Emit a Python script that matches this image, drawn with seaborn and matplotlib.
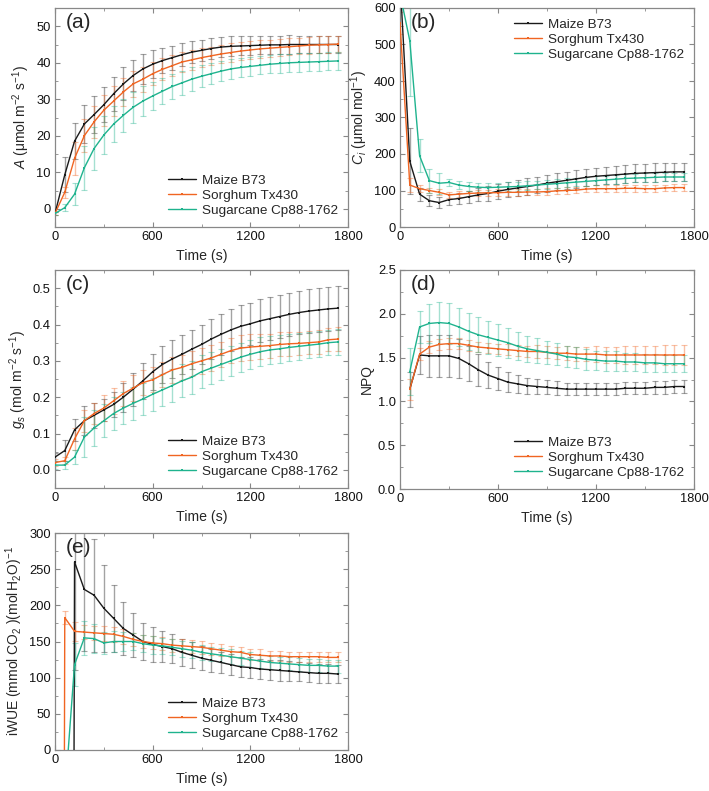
import numpy as np
import pandas as pd
import seaborn as sns
from matplotlib import pyplot as plt
from matplotlib.ticker import MultipleLocator, FormatStrFormatter

sns.set_theme(style="ticks")
plt.rcParams['font.family'] = ['Liberation Sans', 'DejaVu Sans']
plt.rcParams['mathtext.fontset'] = 'custom'
plt.rcParams['mathtext.rm'] = 'Liberation Sans'
plt.rcParams['mathtext.it'] = 'Liberation Sans:italic'

nan = np.nan
time_s = list(range(0, 1800, 60))  # 0 .. 1740
species = ["Maize B73", "Sorghum Tx430", "Sugarcane Cp88-1762"]
colors = ["#1a1a1a", "#f06522", "#1fb38e"]

# (a) A
A_maize = [-1.3, 9.3, 18.5, 23.2, 25.8, 28.5, 31.5, 34.2, 36.5, 38.3, 39.6, 40.6, 41.4, 42.2, 42.9,
           43.4, 43.9, 44.3, 44.5, 44.6, 44.7, 44.8, 44.9, 44.9, 45.0, 45.0, 45.0, 45.0, 45.0, 45.0]
A_sorg = [-1.3, 4.5, 13.8, 20.0, 23.8, 27.0, 29.5, 32.0, 34.2, 35.5, 37.0, 38.2, 39.2, 40.2, 40.8,
          41.4, 41.9, 42.4, 42.8, 43.2, 43.5, 43.8, 44.0, 44.2, 44.4, 44.6, 44.8, 44.9, 45.0, 45.1]
A_sugar = [-1.3, 0.3, 4.0, 11.2, 16.5, 20.2, 23.2, 25.6, 27.8, 29.5, 30.9, 32.2, 33.5, 34.5, 35.5,
           36.3, 37.0, 37.7, 38.3, 38.7, 39.0, 39.3, 39.6, 39.8, 40.0, 40.1, 40.2, 40.3, 40.4, 40.5]
A_maize_err = [0.5, 4.8, 5.0, 5.2, 5.0, 4.8, 4.7, 4.5, 4.2, 4.0, 3.8, 3.5, 3.3, 3.1, 3.0,
               2.9, 2.8, 2.7, 2.7, 2.6, 2.6, 2.5, 2.5, 2.5, 2.5, 2.4, 2.4, 2.4, 2.4, 2.4]
A_sorg_err = [0.5, 1.5, 4.5, 4.5, 4.3, 4.2, 4.0, 3.8, 3.6, 3.4, 3.2, 3.0, 2.9, 2.8, 2.7,
              2.6, 2.5, 2.5, 2.5, 2.4, 2.4, 2.4, 2.3, 2.3, 2.3, 2.3, 2.3, 2.3, 2.2, 2.2]
A_sugar_err = [0.5, 1.0, 3.0, 6.0, 6.0, 5.2, 5.0, 4.5, 4.2, 4.0, 3.8, 3.6, 3.5, 3.3, 3.2,
               3.0, 2.9, 2.8, 2.7, 2.6, 2.6, 2.5, 2.5, 2.5, 2.5, 2.5, 2.5, 2.5, 2.5, 2.5]

# (b) Ci
Ci_maize = [680, 180, 90, 72, 67, 75, 78, 83, 88, 92, 98, 103, 107, 111, 115,
            120, 124, 128, 132, 136, 139, 141, 143, 145, 147, 148, 149, 150, 151, 151]
Ci_sorg = [560, 115, 105, 100, 95, 88, 90, 92, 93, 94, 94, 95, 95, 96, 96,
           97, 99, 100, 101, 104, 105, 105, 105, 106, 106, 105, 105, 107, 108, 108]
Ci_sugar = [640, 510, 195, 127, 120, 122, 115, 111, 109, 108, 109, 110, 111, 113, 115,
            117, 119, 121, 123, 125, 127, 129, 131, 133, 134, 135, 136, 137, 137, 137]
Ci_maize_err = [30, 90, 18, 15, 15, 15, 16, 17, 18, 20, 20, 21, 22, 22, 23,
                23, 23, 24, 24, 24, 24, 24, 24, 25, 25, 25, 25, 25, 25, 25]
Ci_sorg_err = [30, 20, 10, 8, 8, 8, 8, 8, 8, 8, 9, 9, 9, 9, 9,
               9, 9, 9, 9, 9, 9, 9, 9, 9, 9, 9, 9, 9, 9, 9]
Ci_sugar_err = [30, 150, 45, 33, 29, 10, 12, 12, 12, 12, 12, 12, 12, 12, 12,
                12, 12, 12, 12, 12, 12, 12, 12, 12, 12, 12, 12, 12, 12, 12]

# (c) gs
gs_maize = [0.035, 0.053, 0.11, 0.135, 0.15, 0.165, 0.18, 0.2, 0.222, 0.245, 0.27, 0.29, 0.305, 0.318, 0.332,
            0.345, 0.36, 0.373, 0.385, 0.395, 0.402, 0.41, 0.416, 0.422, 0.428, 0.433, 0.437, 0.44, 0.443, 0.445]
gs_sorg = [0.02, 0.025, 0.085, 0.135, 0.155, 0.17, 0.19, 0.21, 0.225, 0.24, 0.248, 0.262, 0.275, 0.282, 0.292,
           0.3, 0.308, 0.318, 0.328, 0.335, 0.338, 0.34, 0.342, 0.345, 0.347, 0.348, 0.35, 0.352, 0.358, 0.36]
gs_sugar = [0.013, 0.013, 0.035, 0.09, 0.115, 0.135, 0.155, 0.17, 0.183, 0.195, 0.208, 0.22, 0.232, 0.245, 0.255,
            0.27, 0.28, 0.29, 0.3, 0.31, 0.318, 0.325, 0.33, 0.333, 0.337, 0.34, 0.343, 0.346, 0.35, 0.352]
gs_maize_err = [0.01, 0.03, 0.03, 0.04, 0.035, 0.03, 0.035, 0.04, 0.045, 0.05, 0.05, 0.05, 0.052, 0.053, 0.054,
                0.055, 0.055, 0.056, 0.057, 0.058, 0.058, 0.059, 0.06, 0.06, 0.06, 0.06, 0.06, 0.06, 0.06, 0.06]
gs_sorg_err = [0.01, 0.01, 0.03, 0.03, 0.03, 0.035, 0.035, 0.035, 0.035, 0.035, 0.035, 0.035, 0.035, 0.035, 0.035,
               0.035, 0.035, 0.035, 0.035, 0.035, 0.035, 0.035, 0.033, 0.033, 0.033, 0.032, 0.032, 0.032, 0.032, 0.032]
gs_sugar_err = [0.01, 0.01, 0.02, 0.055, 0.05, 0.045, 0.045, 0.045, 0.045, 0.045, 0.045, 0.045, 0.045, 0.045, 0.045,
                0.045, 0.045, 0.043, 0.042, 0.04, 0.04, 0.04, 0.038, 0.038, 0.037, 0.037, 0.036, 0.036, 0.035, 0.035]

# (d) NPQ
npq_maize = [nan, 1.14, 1.53, 1.52, 1.52, 1.52, 1.49, 1.43, 1.36, 1.30, 1.26, 1.22, 1.20, 1.18, 1.17,
             1.16, 1.15, 1.14, 1.14, 1.14, 1.14, 1.14, 1.14, 1.15, 1.15, 1.15, 1.16, 1.16, 1.17, 1.17]
npq_sorg = [nan, 1.14, 1.54, 1.62, 1.65, 1.66, 1.66, 1.64, 1.62, 1.61, 1.60, 1.59, 1.58, 1.57, 1.57,
            1.56, 1.55, 1.55, 1.54, 1.54, 1.54, 1.53, 1.53, 1.53, 1.53, 1.53, 1.53, 1.53, 1.53, 1.53]
npq_sugar = [nan, 1.34, 1.85, 1.89, 1.90, 1.89, 1.85, 1.80, 1.76, 1.73, 1.70, 1.67, 1.63, 1.60, 1.58,
             1.56, 1.54, 1.51, 1.50, 1.48, 1.47, 1.46, 1.46, 1.45, 1.45, 1.44, 1.44, 1.43, 1.43, 1.43]
npq_maize_err = [nan, 0.2, 0.22, 0.24, 0.24, 0.24, 0.22, 0.2, 0.18, 0.15, 0.13, 0.11, 0.1, 0.09, 0.09,
                 0.08, 0.08, 0.07, 0.07, 0.07, 0.07, 0.07, 0.07, 0.07, 0.07, 0.07, 0.07, 0.07, 0.07, 0.07]
npq_sorg_err = [nan, 0.12, 0.07, 0.07, 0.06, 0.06, 0.06, 0.06, 0.06, 0.06, 0.06, 0.06, 0.06, 0.06, 0.07,
                0.07, 0.07, 0.08, 0.08, 0.08, 0.09, 0.09, 0.09, 0.1, 0.1, 0.1, 0.1, 0.11, 0.11, 0.11]
npq_sugar_err = [nan, 0.27, 0.18, 0.22, 0.24, 0.23, 0.22, 0.21, 0.2, 0.19, 0.18, 0.17, 0.16, 0.15, 0.14,
                 0.13, 0.13, 0.12, 0.12, 0.12, 0.11, 0.11, 0.11, 0.1, 0.1, 0.1, 0.1, 0.1, 0.1, 0.1]

# (e) iWUE
wue_maize = [-5000, -5000, 260, 222, 214, 196, 182, 168, 159, 150, 146, 143, 140, 135, 131,
             127, 124, 121, 118, 115, 114, 112, 111, 110, 109, 108, 107, 106, 106, 105]
wue_sorg = [-5000, 183, 164, 163, 162, 161, 160, 157, 153, 150, 148, 147, 145, 144, 143,
            142, 140, 138, 136, 135, 132, 131, 130, 130, 129, 129, 129, 129, 128, 128]
wue_sugar = [-5000, -65, 118, 155, 154, 148, 150, 150, 150, 147, 145, 144, 142, 140, 138,
             135, 133, 131, 129, 127, 125, 123, 121, 120, 119, 118, 117, 117, 116, 116]
wue_maize_err = [nan, nan, 150, 85, 78, 60, 46, 36, 30, 26, 24, 22, 20, 19, 18,
                 17, 16, 15, 15, 14, 14, 14, 14, 14, 14, 13, 13, 13, 13, 13]
wue_sorg_err = [nan, 9, 13, 10, 10, 10, 10, 10, 9, 9, 9, 9, 9, 9, 9,
                9, 8, 8, 8, 8, 8, 8, 7, 7, 7, 7, 7, 7, 7, 7]
wue_sugar_err = [nan, nan, 30, 24, 20, 15, 14, 13, 12, 12, 12, 11, 11, 11, 11,
                 10, 10, 10, 10, 10, 10, 9, 9, 9, 9, 9, 9, 9, 9, 9]

W, H = 709, 791
fig = plt.figure(figsize=(W / 100, H / 100), dpi=100)


def make_ax(left, top, right, bottom):
    return fig.add_axes([left / W, 1 - bottom / H, (right - left) / W, (bottom - top) / H])


def panel(ax, series, errs, letter, ylabel, ylim, ystep, yfmt, legend_loc, ylab_size=10):
    handles = []
    for name, col, vals, err in zip(species, colors, series, errs):
        ax.errorbar(time_s, vals, yerr=err, fmt='none', ecolor=col, alpha=0.4,
                    elinewidth=1.0, capsize=2, capthick=0.8, zorder=1)
        df = pd.DataFrame({"t": time_s, "v": vals}).dropna()
        sns.lineplot(data=df, x="t", y="v", ax=ax, color=col, lw=1.0, marker='s',
                     markersize=1.8, markeredgewidth=0, legend=False, zorder=3)
        line = ax.lines[-1]
        line.set_label(name)
        handles.append(line)
    ax.set_xlim(0, 1800)
    ax.set_ylim(*ylim)
    ax.xaxis.set_major_locator(MultipleLocator(600))
    ax.xaxis.set_minor_locator(MultipleLocator(300))
    ax.yaxis.set_major_locator(MultipleLocator(ystep))
    ax.yaxis.set_minor_locator(MultipleLocator(ystep / 2))
    ax.yaxis.set_major_formatter(FormatStrFormatter(yfmt))
    ax.tick_params(which='both', direction='in', top=True, right=True, labelsize=9.3,
                   colors='#888888', labelcolor='#111111', pad=3)
    ax.tick_params(which='major', length=3.5, width=0.8)
    ax.tick_params(which='minor', length=2, width=0.6)
    for sp in ax.spines.values():
        sp.set_color('#888888')
        sp.set_linewidth(0.9)
    ax.set_xlabel("Time (s)", fontsize=10.2, labelpad=4)
    ax.set_ylabel(ylabel, fontsize=ylab_size, labelpad=3)
    ax.text(0.035, 0.975, letter, transform=ax.transAxes, fontsize=15, va='top', ha='left')
    ax.legend(handles=handles, loc=legend_loc, frameon=False, fontsize=9.7,
              handlelength=2.1, labelspacing=0.2, borderaxespad=0.35, handletextpad=0.4)


ax_a = make_ax(55, 8, 348, 227)
ax_b = make_ax(400, 8, 694, 227)
ax_c = make_ax(55, 270, 348, 488)
ax_d = make_ax(400, 270, 694, 489)
ax_e = make_ax(55, 533, 348, 750)

panel(ax_a, [A_maize, A_sorg, A_sugar], [A_maize_err, A_sorg_err, A_sugar_err], "(a)",
      r"$A$ (μmol m$^{-2}$ s$^{-1}$)", (-5, 55), 10, '%d', 'lower right')
panel(ax_b, [Ci_maize, Ci_sorg, Ci_sugar], [Ci_maize_err, Ci_sorg_err, Ci_sugar_err], "(b)",
      r"$C_i$ (μmol mol$^{-1}$)", (0, 600), 100, '%d', 'upper right')
panel(ax_c, [gs_maize, gs_sorg, gs_sugar], [gs_maize_err, gs_sorg_err, gs_sugar_err], "(c)",
      r"$g_s$ (mol m$^{-2}$ s$^{-1}$)", (-0.05, 0.55), 0.1, '%.1f', 'lower right')
panel(ax_d, [npq_maize, npq_sorg, npq_sugar], [npq_maize_err, npq_sorg_err, npq_sugar_err], "(d)",
      "NPQ", (0, 2.5), 0.5, '%.1f', 'lower right')
panel(ax_e, [wue_maize, wue_sorg, wue_sugar], [wue_maize_err, wue_sorg_err, wue_sugar_err], "(e)",
      r"iWUE (mmol CO$_2$ )(mol$\,$H$_2$O)$^{-1}$", (0, 300), 50, '%d', 'lower right', ylab_size=10)

fig.savefig("out.png", dpi=100)
